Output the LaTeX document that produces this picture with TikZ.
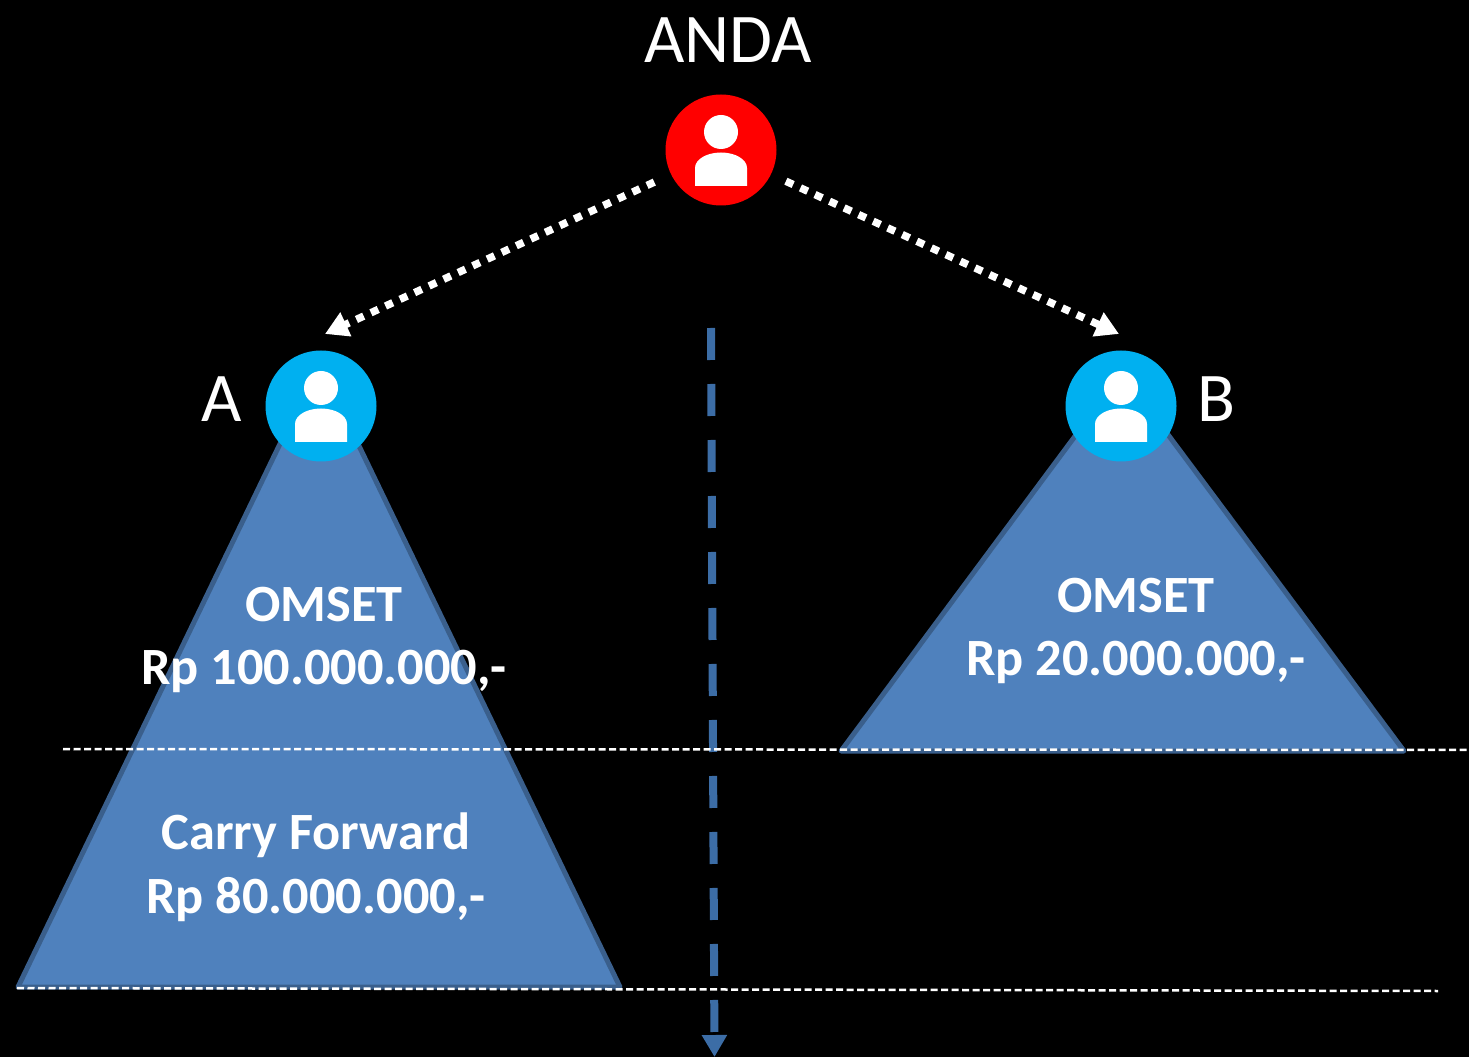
\documentclass[tikz,border=0pt]{standalone}
\usepackage{fontspec}
\setmainfont{Carlito}
\usepackage{xcolor}
\usetikzlibrary{arrows.meta,positioning,calc}
\definecolor{omsetfill}{HTML}{4F81BD}
\definecolor{omsetline}{HTML}{3A5F8C}
\definecolor{axisblue}{HTML}{3C6DA6}
\definecolor{skyblue}{HTML}{00B0F0}

\begin{document}
\begin{tikzpicture}[semithick, node distance=3cm]

\tikzstyle{person}=[circle, minimum size=2.22cm, inner sep=0pt, draw=none, text=white]
\tikzstyle{name label}=[text=white, inner sep=0pt, font=\fontsize{39.7}{44}\selectfont]
\tikzstyle{omset label}=[text=white, inner sep=0pt, align=center, font=\fontsize{29.8}{36.3}\selectfont\bfseries]
\tikzstyle{pyramid}=[fill=omsetfill, draw=omsetline, line width=0.1cm, line join=round]
\tikzstyle{dot arrow}=[white, line width=0.15cm, dash pattern=on 0.16cm off 0.16cm, -{Triangle[length=0.46cm,width=0.5cm]}]
\tikzstyle{level line}=[white, line width=0.05cm, dash pattern=on 0.14cm off 0.07cm]

%background
\fill[black] (0,0) rectangle (29.38,-21.14);
\useasboundingbox (0,0) rectangle (29.38,-21.14);

%pyramids
\draw[pyramid] (6.38,-7.26) -- (12.40,-19.74) -- (0.36,-19.74) -- cycle;
\draw[pyramid] (22.44,-7.46) -- (28.08,-15.02) -- (16.82,-15.02) -- cycle;

%people
\node[person,fill=red]
(anda) at (14.42,-3.00)
{};

\node[person,fill=skyblue]
(a) [below of=anda, node distance=5.12cm, xshift=-8cm]
{};

\node[person,fill=skyblue]
(b) [right of=a, node distance=16cm]
{};

\foreach \n in {anda,a,b} {
  \fill[white] ([yshift=0.36cm]\n.center) circle (0.34cm);
  \fill[white] ([shift={(-0.52cm,-0.72cm)}]\n.center) -- ++(0,0.36) arc[start angle=180,end angle=0,x radius=0.52,y radius=0.31] -- ++(0,-0.36) -- cycle;
}

%labels
\node[name label]
(andatext) [above of=anda, node distance=2.2cm, xshift=0.14cm]
{ANDA};

\node[name label]
(atext) [left of=a, node distance=1.98cm, yshift=0.14cm]
{A};

\node[name label]
(btext) [right of=b, node distance=1.9cm, yshift=0.14cm]
{B};

\node[omset label]
(omseta) [below of=a, node distance=4.68cm, xshift=0.06cm]
{OMSET\\Rp 100.000.000,-};

\node[omset label]
(omsetb) [below of=b, node distance=4.5cm, xshift=0.3cm]
{OMSET\\Rp 20.000.000,-};

\node[omset label]
(carry) [below of=omseta, node distance=4.54cm, xshift=-0.16cm]
{Carry Forward\\Rp 80.000.000,-};

%axis
\coordinate (axistop) at (14.22,-6.56);
\coordinate (axisend) at (14.29,-21.14);
\draw[axisblue, line width=0.16cm, dash pattern=on 0.64cm off 0.48cm, -{Triangle[length=0.44cm,width=0.48cm]}] (axistop) -- (axisend);

%levels
\coordinate (levela) at (1.26,-14.98);
\coordinate (levelb) at (29.38,-15.00);
\coordinate (levelc) at (0.34,-19.76);
\coordinate (leveld) at (28.76,-19.82);
\draw[level line] (levela) -- (levelb);
\draw[level line] (levelc) -- (leveld);

%arrows
\path[dot arrow, shorten <=0.36cm] (anda.206) edge ([xshift=0.08cm,yshift=0.32cm]a.north);
\path[dot arrow, shorten <=0.32cm] (anda.-26) edge ([xshift=-0.04cm,yshift=0.32cm]b.north);

\end{tikzpicture}
\end{document}
